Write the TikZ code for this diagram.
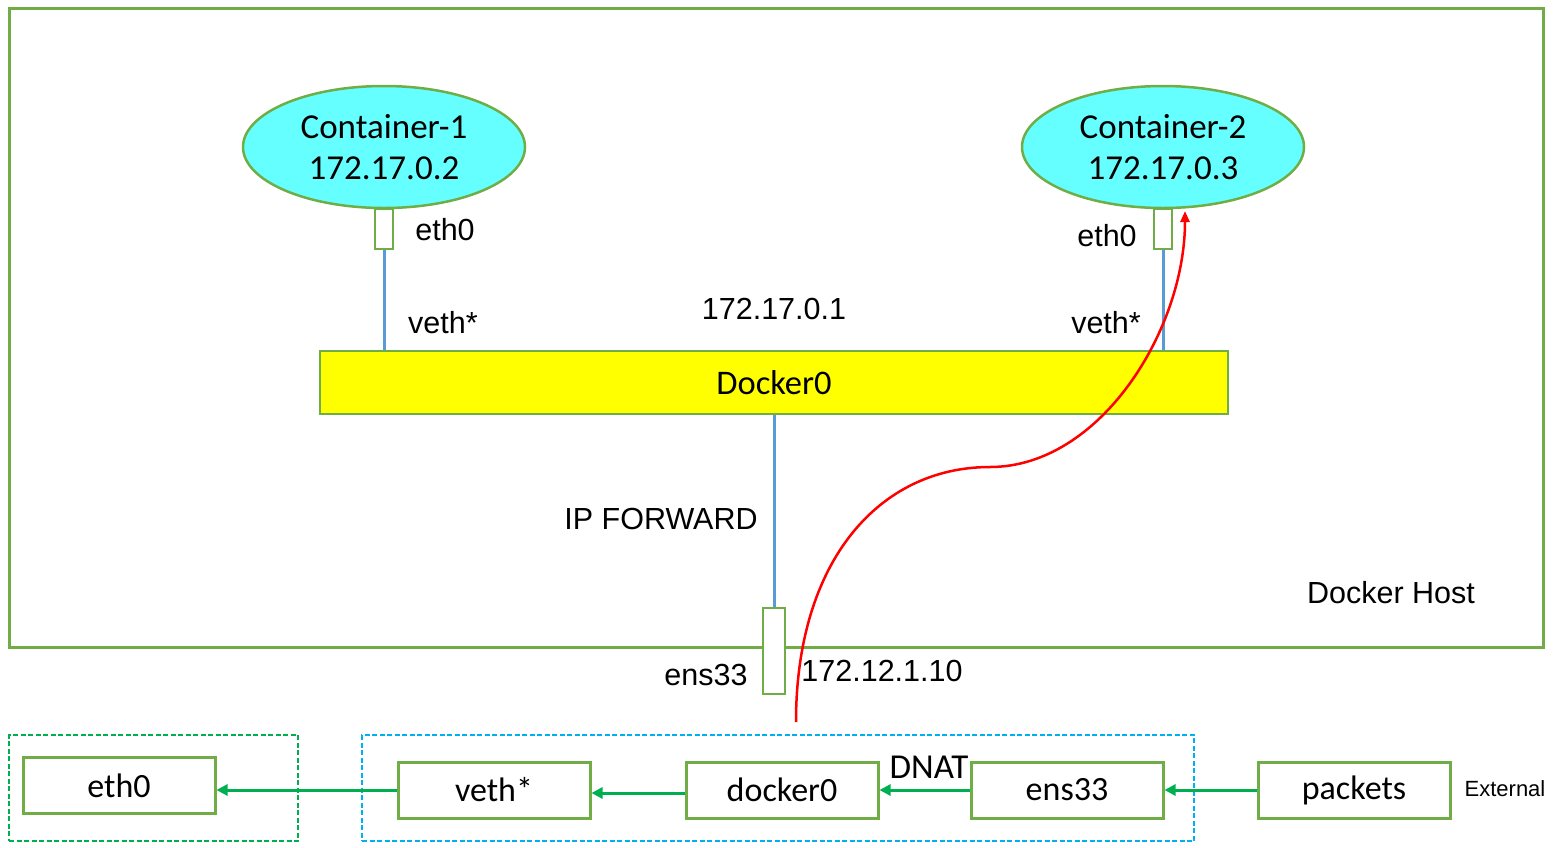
\documentclass[tikz,border=0pt]{standalone}
\usepackage{fontspec}
\setmainfont{Liberation Sans}
\newfontfamily\calfont{Carlito}
\usetikzlibrary{shapes.geometric,arrows.meta}
\definecolor{bgreen}{HTML}{70AD47}
\definecolor{cyanfill}{HTML}{66FFFF}
\definecolor{lblue}{HTML}{5B9BD5}
\definecolor{agreen}{HTML}{00B050}
\definecolor{dblue}{HTML}{00B0F0}
\definecolor{pyellow}{HTML}{FFFF00}
\tikzset{
  cont/.style={ellipse,draw=bgreen,line width=2.5pt,fill=cyanfill,minimum width=282pt,minimum height=122pt,inner sep=0pt,font=\calfont\fontsize{35}{41}\selectfont,align=center},
  port/.style={rectangle,draw=bgreen,line width=2.5pt,fill=white,inner sep=0pt},
  lbl/.style={font=\fontsize{30.5}{34}\selectfont,inner sep=0pt},
  ifbox/.style={rectangle,draw=bgreen,line width=3pt,fill=white,minimum width=192pt,minimum height=56pt,inner sep=0pt,font=\calfont\fontsize{34}{38}\selectfont},
  bline/.style={draw=lblue,line width=3pt},
  garrow/.style={draw=agreen,line width=3pt,-{Triangle[length=11pt,width=11pt]}},
  grp/.style={rectangle,dash pattern=on 5pt off 2.5pt,line width=1.5pt,minimum height=106pt,inner sep=0pt},
}
\begin{document}
\begin{tikzpicture}[x=1pt,y=-1pt]
\useasboundingbox (0,0) rectangle (1553,847);
% host
\node[rectangle,draw=bgreen,line width=3pt,minimum width=1534pt,minimum height=639pt,inner sep=0pt] (host) at (776,327.5) {};
\node[lbl] (hostlbl) at (1391,593) {Docker Host};
% containers
\node[cont] (c1) at (384,147) {Container-1\\172.17.0.2};
\node[cont] (c2) at (1163,147) {Container-2\\172.17.0.3};
\node[port,minimum width=18pt,minimum height=40pt] (c1eth) at (384,229) {};
\node[port,minimum width=18pt,minimum height=40pt] (c2eth) at (1163,229) {};
\node[lbl] (c1ethl) at (445,230) {eth0};
\node[lbl] (c2ethl) at (1107,236) {eth0};
% docker0 bridge
\node[rectangle,draw=bgreen,line width=2.5pt,fill=pyellow,minimum width=908pt,minimum height=63pt,inner sep=0pt,font=\calfont\fontsize{34.5}{38}\selectfont] (dock0) at (774,382.5) {Docker0};
\node[lbl] (v1l) at (443,323) {veth*};
\node[lbl] (v2l) at (1106,323) {veth*};
\node[lbl] (gw) at (774,309) {172.17.0.1};
\draw[bline] (c1eth.south) -- (c1eth.south |- dock0.north);
\draw[bline] (c2eth.south) -- (c2eth.south |- dock0.north);
% ens33
\node[port,minimum width=22pt,minimum height=86pt] (ens) at (774,651) {};
\draw[bline] (dock0.south) -- (ens.north);
\node[lbl] (ipf) at (661,519) {IP FORWARD};
\node[lbl] (ensl) at (706,675) {ens33};
\node[lbl] (ensip) at (882,671) {172.12.1.10};
% bottom flow
\node[grp,draw=agreen,minimum width=289pt] (grpA) at (153.5,788) {};
\node[grp,draw=dblue,minimum width=832pt] (grpB) at (778,788) {};
\node[ifbox] (beth) at (119,785.5) {eth0};
\node[ifbox] (bveth) at (494,790) {veth*};
\node[ifbox] (bdock) at (782,790) {docker0};
\node[ifbox] (bens) at (1067,790) {ens33};
\node[ifbox] (bpk) at (1354,790) {packets};
\node[font=\calfont\fontsize{35}{38}\selectfont,inner sep=0pt] (dnat) at (929,767) {DNAT};
\node[font=\fontsize{22}{26}\selectfont,inner sep=0pt] (ext) at (1505,789) {External};
\draw[garrow] (bpk.west) -- (bens.east);
\draw[garrow] (bens.west) -- (bdock.east);
\draw[garrow] ([yshift=-3pt]bdock.west) -- ([yshift=-3pt]bveth.east);
\draw[garrow] (bveth.west) -- (bveth.west -| beth.east);
% red path
\coordinate (rs) at (796,722);
\coordinate (rm) at (990,467);
\coordinate (re) at (1185,211);
\draw[red,line width=2.5pt,-{Triangle[length=11pt,width=9pt]}] (rs) .. controls (796,560) and (880,467) .. (rm) .. controls (1100,467) and (1185,330) .. (re);
\end{tikzpicture}
\end{document}
